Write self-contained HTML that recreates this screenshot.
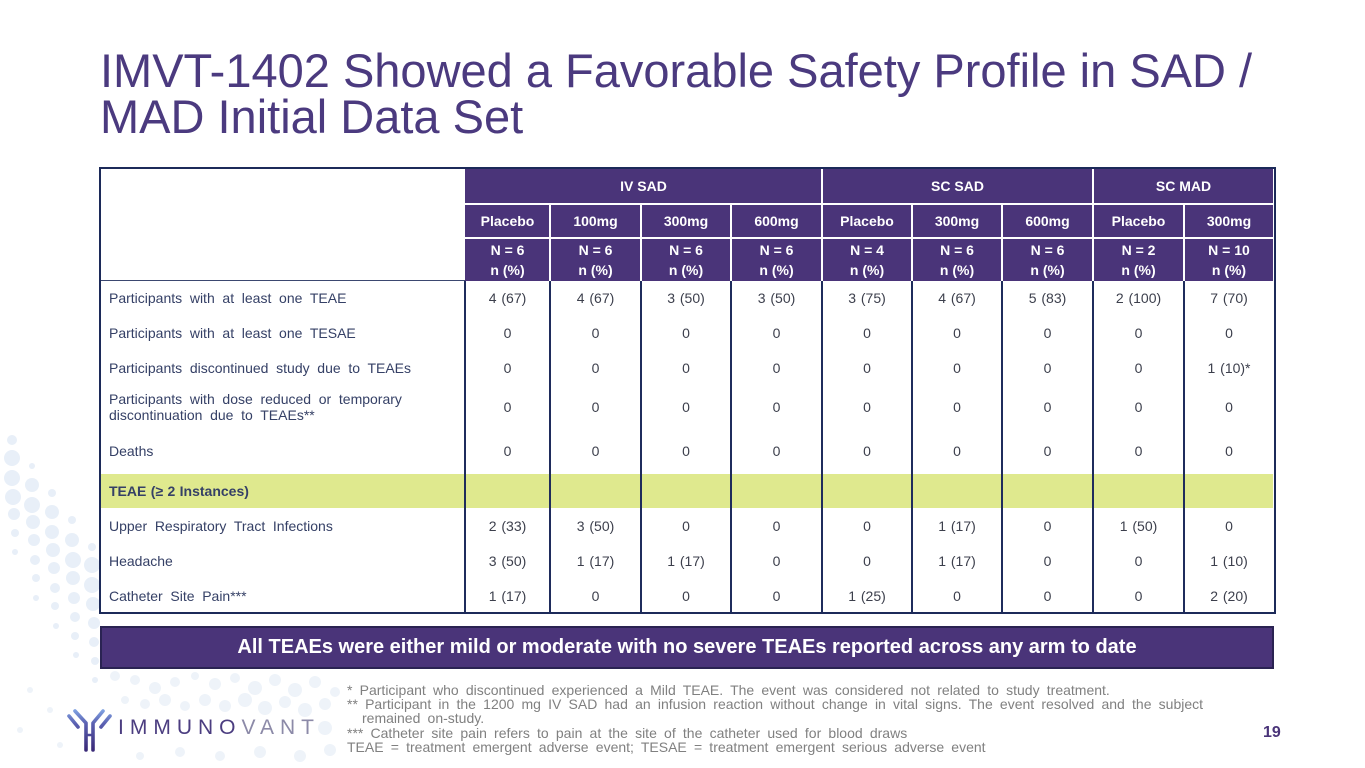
<!DOCTYPE html>
<html>
<head>
<meta charset="utf-8">
<style>
  html, body { margin:0; padding:0; }
  body { width:1365px; height:768px; position:relative; overflow:hidden; background:#ffffff;
         font-family:"Liberation Sans", Arial, sans-serif; }
  .abs { position:absolute; }
  .title { left:100px; top:48px; font-size:47px; line-height:46px; color:#4b3a7f; white-space:nowrap; }
  .row { position:absolute; left:100px; width:1175px; display:flex; }
  .row > div { display:flex; align-items:center; justify-content:center; box-sizing:border-box; }
  .lab { width:365px; justify-content:flex-start !important; padding-left:9px; font-size:14px; line-height:16px;
         color:#354066; word-spacing:3.8px; white-space:nowrap; }
  .c1{width:85px}.c2{width:91px}.c3{width:90px}.c4{width:91px}.c5{width:90px}.c6{width:90px}.c7{width:91px}.c8{width:91px}.c9{width:90px}
  .num { font-size:14px; color:#3c3f4c; word-spacing:1px; white-space:nowrap; }
  .hd { font-size:14px; font-weight:bold; color:#ffffff; text-align:center; line-height:20px; white-space:nowrap; }
  .wl { position:absolute; background:#ffffff; }
  .nl { position:absolute; background:#1f2c5c; }
  .fn { position:absolute; left:347px; font-size:14px; line-height:14px; color:#808080; word-spacing:3.3px; white-space:nowrap; }
</style>
</head>
<body>

<!-- background dots -->
<svg class="abs" style="left:0;top:0" width="1365" height="768">
  <g fill="#e8eff8">
    <circle cx="12" cy="440" r="5"/><circle cx="12" cy="458" r="8"/><circle cx="12" cy="478" r="8"/><circle cx="13" cy="497" r="8"/><circle cx="14" cy="514" r="6"/><circle cx="15" cy="533" r="4"/><circle cx="15" cy="552" r="3"/>
    <circle cx="32" cy="466" r="3"/><circle cx="32" cy="485" r="7"/><circle cx="32" cy="505" r="8"/><circle cx="33" cy="522" r="7"/><circle cx="34" cy="540" r="6"/><circle cx="35" cy="560" r="5"/><circle cx="36" cy="578" r="4"/><circle cx="36" cy="598" r="3"/>
    <circle cx="52" cy="493" r="4"/><circle cx="52" cy="512" r="7"/><circle cx="52" cy="532" r="7"/><circle cx="53" cy="550" r="7"/><circle cx="54" cy="568" r="6"/><circle cx="55" cy="588" r="5"/><circle cx="55" cy="606" r="4"/><circle cx="56" cy="626" r="3"/>
    <circle cx="72" cy="520" r="4"/><circle cx="72" cy="540" r="7"/><circle cx="73" cy="560" r="8"/><circle cx="73" cy="578" r="7"/><circle cx="74" cy="598" r="6"/><circle cx="75" cy="617" r="5"/><circle cx="75" cy="636" r="4"/><circle cx="76" cy="655" r="3"/>
    <circle cx="92" cy="547" r="4"/><circle cx="92" cy="565" r="8"/><circle cx="92" cy="585" r="8"/><circle cx="93" cy="604" r="7"/><circle cx="94" cy="623" r="6"/><circle cx="94" cy="642" r="5"/><circle cx="95" cy="661" r="4"/><circle cx="95" cy="680" r="3"/>
  </g>
  <g fill="#eef3f9">
    <circle cx="115" cy="676" r="5"/><circle cx="135" cy="680" r="5"/><circle cx="155" cy="688" r="6"/><circle cx="175" cy="682" r="5"/><circle cx="195" cy="676" r="4"/><circle cx="215" cy="684" r="6"/><circle cx="235" cy="678" r="5"/><circle cx="255" cy="688" r="7"/><circle cx="275" cy="680" r="6"/><circle cx="295" cy="690" r="7"/><circle cx="315" cy="682" r="6"/><circle cx="335" cy="692" r="5"/>
    <circle cx="125" cy="700" r="4"/><circle cx="145" cy="704" r="5"/><circle cx="165" cy="700" r="6"/><circle cx="185" cy="706" r="5"/><circle cx="205" cy="700" r="6"/><circle cx="225" cy="706" r="6"/><circle cx="245" cy="700" r="7"/><circle cx="265" cy="708" r="7"/><circle cx="285" cy="702" r="6"/><circle cx="305" cy="710" r="7"/><circle cx="325" cy="704" r="6"/>
    <circle cx="325" cy="728" r="7"/><circle cx="330" cy="750" r="6"/><circle cx="140" cy="756" r="4"/><circle cx="180" cy="752" r="5"/><circle cx="220" cy="756" r="5"/><circle cx="260" cy="752" r="6"/><circle cx="300" cy="756" r="6"/>
    <circle cx="30" cy="690" r="3"/><circle cx="50" cy="710" r="3"/><circle cx="20" cy="730" r="3"/><circle cx="60" cy="745" r="3"/>
  </g>
</svg>

<!-- title -->
<div class="abs title">IMVT-1402 Showed a Favorable Safety Profile in SAD /<br>MAD Initial Data Set</div>

<!-- table frame -->
<div class="abs" style="left:99px;top:167px;width:1177px;height:447px;border:2px solid #1c2a59;box-sizing:border-box;"></div>
<div class="abs" style="left:465px;top:169px;width:808px;height:112px;background:#4a3479;"></div>

<!-- highlight band -->
<div class="abs" style="left:101px;top:474px;width:1172px;height:34px;background:#dfe98e;"></div>

<!-- header white lines -->
<div class="wl" style="left:465px;top:203px;width:808px;height:2px;"></div>
<div class="wl" style="left:465px;top:237px;width:808px;height:2px;"></div>
<div class="wl" style="left:821px;top:169px;width:2px;height:112px;"></div>
<div class="wl" style="left:1092px;top:169px;width:2px;height:112px;"></div>
<div class="wl" style="left:549px;top:203px;width:2px;height:78px;"></div>
<div class="wl" style="left:640px;top:203px;width:2px;height:78px;"></div>
<div class="wl" style="left:730px;top:203px;width:2px;height:78px;"></div>
<div class="wl" style="left:911px;top:203px;width:2px;height:78px;"></div>
<div class="wl" style="left:1001px;top:203px;width:2px;height:78px;"></div>
<div class="wl" style="left:1183px;top:203px;width:2px;height:78px;"></div>

<!-- header/body separator -->
<div class="abs" style="left:101px;top:280px;width:364px;height:1px;background:#3b4770;"></div>

<!-- body navy vertical lines -->
<div class="nl" style="left:464px;top:281px;width:2px;height:331px;"></div>
<div class="nl" style="left:549px;top:281px;width:2px;height:331px;"></div>
<div class="nl" style="left:640px;top:281px;width:2px;height:331px;"></div>
<div class="nl" style="left:730px;top:281px;width:2px;height:331px;"></div>
<div class="nl" style="left:821px;top:281px;width:2px;height:331px;"></div>
<div class="nl" style="left:911px;top:281px;width:2px;height:331px;"></div>
<div class="nl" style="left:1001px;top:281px;width:2px;height:331px;"></div>
<div class="nl" style="left:1092px;top:281px;width:2px;height:331px;"></div>
<div class="nl" style="left:1183px;top:281px;width:2px;height:331px;"></div>

<!-- header text -->
<div class="abs hd" style="left:465px;top:176px;width:357px;">IV SAD</div>
<div class="abs hd" style="left:822px;top:176px;width:271px;">SC SAD</div>
<div class="abs hd" style="left:1093px;top:176px;width:181px;">SC MAD</div>

<div class="row" style="top:204px;height:34px;">
  <div style="width:365px"></div>
  <div class="c1 hd">Placebo</div><div class="c2 hd">100mg</div><div class="c3 hd">300mg</div><div class="c4 hd">600mg</div>
  <div class="c5 hd">Placebo</div><div class="c6 hd">300mg</div><div class="c7 hd">600mg</div>
  <div class="c8 hd">Placebo</div><div class="c9 hd">300mg</div>
</div>
<div class="row" style="top:239px;height:41px;">
  <div style="width:365px"></div>
  <div class="c1 hd">N = 6<br>n (%)</div><div class="c2 hd">N = 6<br>n (%)</div><div class="c3 hd">N = 6<br>n (%)</div><div class="c4 hd">N = 6<br>n (%)</div>
  <div class="c5 hd">N = 4<br>n (%)</div><div class="c6 hd">N = 6<br>n (%)</div><div class="c7 hd">N = 6<br>n (%)</div>
  <div class="c8 hd">N = 2<br>n (%)</div><div class="c9 hd">N = 10<br>n (%)</div>
</div>

<!-- body rows -->
<div class="row" style="top:281px;height:34px;">
  <div class="lab">Participants with at least one TEAE</div>
  <div class="c1 num">4 (67)</div><div class="c2 num">4 (67)</div><div class="c3 num">3 (50)</div><div class="c4 num">3 (50)</div>
  <div class="c5 num">3 (75)</div><div class="c6 num">4 (67)</div><div class="c7 num">5 (83)</div><div class="c8 num">2 (100)</div><div class="c9 num">7 (70)</div>
</div>
<div class="row" style="top:315px;height:35px;">
  <div class="lab">Participants with at least one TESAE</div>
  <div class="c1 num">0</div><div class="c2 num">0</div><div class="c3 num">0</div><div class="c4 num">0</div>
  <div class="c5 num">0</div><div class="c6 num">0</div><div class="c7 num">0</div><div class="c8 num">0</div><div class="c9 num">0</div>
</div>
<div class="row" style="top:350px;height:36px;">
  <div class="lab">Participants discontinued study due to TEAEs</div>
  <div class="c1 num">0</div><div class="c2 num">0</div><div class="c3 num">0</div><div class="c4 num">0</div>
  <div class="c5 num">0</div><div class="c6 num">0</div><div class="c7 num">0</div><div class="c8 num">0</div><div class="c9 num">1 (10)*</div>
</div>
<div class="row" style="top:386px;height:42px;">
  <div class="lab">Participants with dose reduced or temporary<br>discontinuation due to TEAEs**</div>
  <div class="c1 num">0</div><div class="c2 num">0</div><div class="c3 num">0</div><div class="c4 num">0</div>
  <div class="c5 num">0</div><div class="c6 num">0</div><div class="c7 num">0</div><div class="c8 num">0</div><div class="c9 num">0</div>
</div>
<div class="row" style="top:428px;height:45px;">
  <div class="lab">Deaths</div>
  <div class="c1 num">0</div><div class="c2 num">0</div><div class="c3 num">0</div><div class="c4 num">0</div>
  <div class="c5 num">0</div><div class="c6 num">0</div><div class="c7 num">0</div><div class="c8 num">0</div><div class="c9 num">0</div>
</div>
<div class="row" style="top:474px;height:34px;">
  <div class="lab" style="font-weight:bold;word-spacing:0.5px;">TEAE (≥ 2 Instances)</div>
</div>
<div class="row" style="top:508px;height:35px;">
  <div class="lab">Upper Respiratory Tract Infections</div>
  <div class="c1 num">2 (33)</div><div class="c2 num">3 (50)</div><div class="c3 num">0</div><div class="c4 num">0</div>
  <div class="c5 num">0</div><div class="c6 num">1 (17)</div><div class="c7 num">0</div><div class="c8 num">1 (50)</div><div class="c9 num">0</div>
</div>
<div class="row" style="top:543px;height:36px;">
  <div class="lab">Headache</div>
  <div class="c1 num">3 (50)</div><div class="c2 num">1 (17)</div><div class="c3 num">1 (17)</div><div class="c4 num">0</div>
  <div class="c5 num">0</div><div class="c6 num">1 (17)</div><div class="c7 num">0</div><div class="c8 num">0</div><div class="c9 num">1 (10)</div>
</div>
<div class="row" style="top:579px;height:34px;">
  <div class="lab">Catheter Site Pain***</div>
  <div class="c1 num">1 (17)</div><div class="c2 num">0</div><div class="c3 num">0</div><div class="c4 num">0</div>
  <div class="c5 num">1 (25)</div><div class="c6 num">0</div><div class="c7 num">0</div><div class="c8 num">0</div><div class="c9 num">2 (20)</div>
</div>

<!-- banner -->
<div class="abs" style="left:100px;top:626px;width:1174px;height:43px;background:#4a3479;border:2px solid #2a2352;box-sizing:border-box;display:flex;align-items:center;justify-content:center;color:#fff;font-weight:bold;font-size:20px;white-space:nowrap;">All TEAEs were either mild or moderate with no severe TEAEs reported across any arm to date</div>

<!-- footnotes -->
<div class="fn" style="top:683px;">* Participant who discontinued experienced a Mild TEAE. The event was considered not related to study treatment.</div>
<div class="fn" style="top:697px;">** Participant in the 1200 mg IV SAD had an infusion reaction without change in vital signs. The event resolved and the subject</div>
<div class="fn" style="top:711px;left:362px;">remained on-study.</div>
<div class="fn" style="top:726px;">*** Catheter site pain refers to pain at the site of the catheter used for blood draws</div>
<div class="fn" style="top:740px;">TEAE = treatment emergent adverse event; TESAE = treatment emergent serious adverse event</div>

<!-- page number -->
<div class="abs" style="left:1263px;top:724px;font-size:16px;font-weight:bold;color:#4a3479;">19</div>

<!-- logo icon -->
<svg class="abs" style="left:60px;top:702px" width="60" height="54" viewBox="0 0 60 54">
  <defs>
    <linearGradient id="lg" gradientUnits="userSpaceOnUse" x1="0" y1="8" x2="0" y2="48">
      <stop offset="0" stop-color="#7fa2e2"/>
      <stop offset="0.35" stop-color="#5a5fb0"/>
      <stop offset="1" stop-color="#3a2a78"/>
    </linearGradient>
  </defs>
  <g stroke="url(#lg)" stroke-linecap="round" stroke-linejoin="round" fill="none" stroke-width="3.6">
    <path d="M15,9 L26,21 L26,48"/>
    <path d="M43,9 L33,21 L33,48"/>
    <line x1="26" y1="33" x2="33" y2="33" stroke-width="2.6"/>
    <line x1="9" y1="14" x2="18" y2="25"/>
    <line x1="50" y1="14" x2="41" y2="25"/>
  </g>
</svg>
<div class="abs" style="left:118px;top:716px;font-size:21px;line-height:24px;letter-spacing:6px;white-space:nowrap;"><span style="color:#4b3d80;">IMMUNO</span><span style="color:#8c8aa8;">VANT</span></div>

</body>
</html>
